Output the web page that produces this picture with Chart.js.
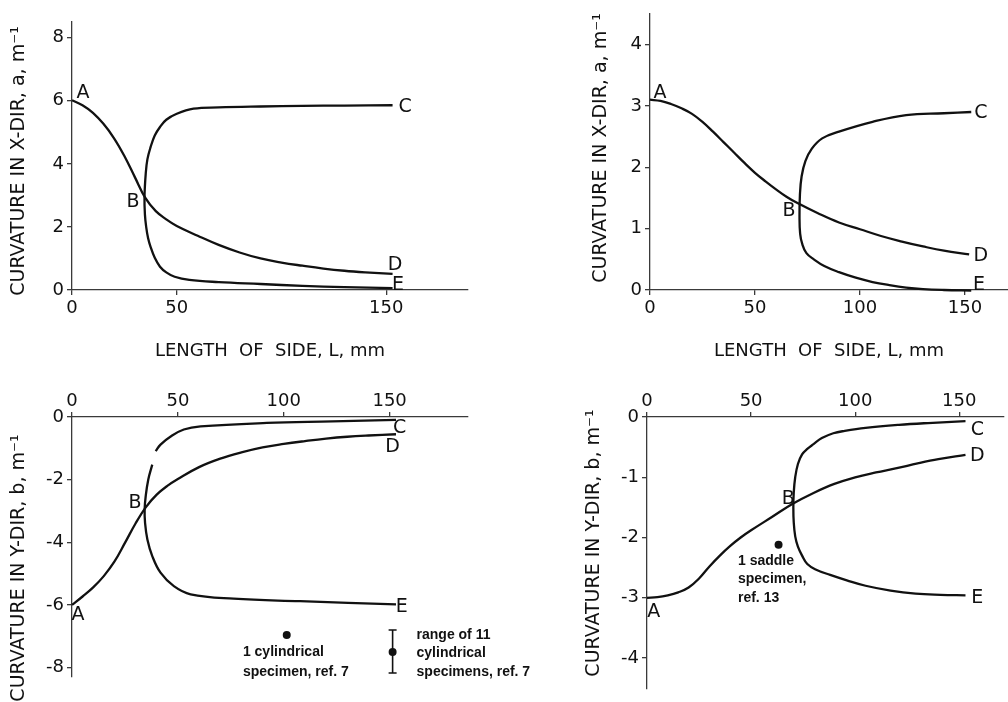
<!DOCTYPE html>
<html>
<head>
<meta charset="utf-8">
<script src="https://cdn.jsdelivr.net/npm/chart.js@4.4.1/dist/chart.umd.min.js"></script>
<style>
  body { margin: 0; background: #fff; width: 1008px; height: 702px; position: relative; overflow: hidden; }
  canvas { position: absolute; }
</style>
</head>
<body>
<canvas id="p1" width="504" height="370" style="left:0;top:0"></canvas>
<canvas id="p2" width="504" height="370" style="left:504px;top:0"></canvas>
<canvas id="p3" width="540" height="332" style="left:0;top:370px"></canvas>
<canvas id="p4" width="504" height="332" style="left:504px;top:370px"></canvas>
<script>
// 曲率随边长变化 —— 四个分图

// 分图 1：X 方向曲率 a（左上）
const p1TicksX = [0, 50, 150];
const p1TicksY = [0, 2, 4, 6, 8];
const p1AdX = [0, 5, 10, 15, 20, 25, 30, 35, 40, 45, 50, 60, 70, 80, 90, 100, 110, 120, 130, 140, 153];
const p1AdY = [6.02, 5.86, 5.62, 5.27, 4.82, 4.25, 3.58, 2.92, 2.5, 2.24, 2.03, 1.72, 1.43, 1.19, 1.0, 0.87, 0.77, 0.68, 0.61, 0.56, 0.51];
const p1CeX = [153, 130, 110, 90, 70, 58, 50, 45, 42, 39.5, 37.5, 36, 35.2, 34.6, 34.8, 35.4, 36.3, 37.5, 39.5, 42, 45, 49, 56, 70, 90, 110, 130, 153];
const p1CeY = [5.86, 5.85, 5.84, 5.82, 5.79, 5.75, 5.59, 5.4, 5.17, 4.9, 4.53, 4.15, 3.7, 2.95, 2.4, 2.0, 1.65, 1.37, 1.02, 0.74, 0.56, 0.42, 0.32, 0.25, 0.19, 0.13, 0.09, 0.06];
const p1DotX = [101.2];
const p1DotY = [-0.25];
const p1Letters = ['A', 'B', 'C', 'D', 'E'];
const p1LetterX = [5.3, 29.1, 159, 154.2, 155.6];
const p1LetterY = [6.25, 2.79, 5.81, 0.79, 0.16];

// 分图 2：X 方向曲率 a（右上）
const p2TicksX = [0, 50, 100, 150];
const p2TicksY = [0, 1, 2, 3, 4];
const p2AdX = [0, 5, 10, 15, 20, 25, 30, 35, 40, 45, 50, 55, 60, 65, 70, 80, 90, 100, 110, 120, 130, 140, 152];
const p2AdY = [3.1, 3.08, 3.03, 2.96, 2.87, 2.74, 2.58, 2.41, 2.24, 2.07, 1.91, 1.77, 1.64, 1.52, 1.42, 1.25, 1.1, 0.99, 0.88, 0.79, 0.71, 0.64, 0.58];
const p2CeX = [153, 140, 122, 106, 90, 82, 77, 74, 72.2, 71.4, 71.2, 71.5, 72.5, 74.5, 78, 83, 90, 98, 106, 114, 122, 130, 140, 153];
const p2CeY = [2.9, 2.88, 2.85, 2.74, 2.58, 2.47, 2.3, 2.1, 1.85, 1.55, 1.2, 0.92, 0.75, 0.6, 0.5, 0.39, 0.29, 0.2, 0.13, 0.08, 0.04, 0.015, 0, -0.01];
const p2Letters = ['A', 'B', 'C', 'D', 'E'];
const p2LetterX = [4.8, 66.2, 157.6, 157.6, 156.7];
const p2LetterY = [3.21, 1.29, 2.89, 0.56, 0.08];

// 分图 3：Y 方向曲率 b（左下）
const p3TicksX = [0, 50, 100, 150];
const p3TicksY = [0, -2, -4, -6, -8];
const p3AdX = [0, 5, 10, 15, 20, 25, 30, 35, 40, 45, 50, 60, 70, 80, 90, 100, 110, 120, 130, 140, 153];
const p3AdY = [-6.0, -5.73, -5.44, -5.08, -4.62, -4.02, -3.4, -2.87, -2.48, -2.2, -1.98, -1.6, -1.33, -1.13, -0.97, -0.86, -0.77, -0.69, -0.63, -0.59, -0.55];
// null 为原图曲线上的断开处
const p3CeX = [153, 123, 92, 60.7, 52.8, 46.6, 41.8, 39.5, 38.7, 37.9, 36, 34.8, 34.3, 34.5, 35.6, 37.9, 41.8, 48.1, 56, 76.3, 107.7, 153];
const p3CeY = [-0.09, -0.14, -0.19, -0.3, -0.4, -0.62, -0.88, -1.09, null, -1.52, -2.0, -2.53, -2.95, -3.38, -3.91, -4.44, -4.97, -5.4, -5.66, -5.8, -5.88, -5.98];
const p3DotX = [101.4];
const p3DotY = [-6.96];
const p3RangeX = [151.4];
const p3RangeMid = [-7.5];
const p3RangeLow = [-8.17];
const p3RangeHigh = [-6.8];
const p3Letters = ['A', 'B', 'C', 'D', 'E'];
const p3LetterX = [2.8, 29.7, 154.7, 151.4, 155.7];
const p3LetterY = [-6.32, -2.74, -0.35, -0.96, -6.06];
const p3Notes = ['1 cylindrical', 'specimen, ref. 7', 'range of 11', 'cylindrical', 'specimens, ref. 7'];
const p3NoteX = [80.7, 80.7, 162.7, 162.7, 162.7];
const p3NoteY = [-7.5, -8.14, -6.96, -7.53, -8.14];

// 分图 4：Y 方向曲率 b（右下）
const p4TicksX = [0, 50, 100, 150];
const p4TicksY = [0, -1, -2, -3, -4];
const p4AdX = [0, 5, 10, 15, 20, 25, 30, 35, 40, 45, 50, 60, 70, 80, 90, 100, 110, 120, 130, 140, 153];
const p4AdY = [-3.0, -2.99, -2.96, -2.91, -2.83, -2.68, -2.48, -2.3, -2.14, -2.0, -1.88, -1.66, -1.44, -1.26, -1.11, -1.0, -0.92, -0.85, -0.77, -0.7, -0.63];
const p4CeX = [153, 135, 121, 105, 95, 89.5, 84, 80, 77, 74.5, 72.5, 71.2, 70.5, 70.3, 70.5, 71.2, 72.5, 74.5, 77, 81, 88, 96, 105, 117, 129, 141, 153];
const p4CeY = [-0.07, -0.1, -0.13, -0.18, -0.23, -0.27, -0.35, -0.45, -0.53, -0.62, -0.78, -1.0, -1.25, -1.5, -1.75, -1.98, -2.15, -2.3, -2.44, -2.53, -2.62, -2.71, -2.8, -2.88, -2.93, -2.95, -2.96];
const p4DotX = [63.2];
const p4DotY = [-2.12];
const p4Letters = ['A', 'B', 'C', 'D', 'E'];
const p4LetterX = [3.3, 67.9, 158.7, 158.7, 158.7];
const p4LetterY = [-3.24, -1.36, -0.22, -0.65, -3.0];
const p4Notes = ['1 saddle', 'specimen,', 'ref. 13'];
const p4NoteX = [43.7, 43.7, 43.7];
const p4NoteY = [-2.39, -2.69, -3.0];

const FONT = '"DejaVu Sans", sans-serif';
const INK = '#111';
const X_TITLE = 'LENGTH  OF  SIDE, L, mm';
const Y_TITLE_A = 'CURVATURE IN X-DIR, a, m⁻¹';
const Y_TITLE_B = 'CURVATURE IN Y-DIR, b, m⁻¹';

function pts(xs, ys) {
  return xs.map((v, i) => ({ x: v, y: ys[i] }));
}

// 曲线
function curve(xs, ys) {
  return {
    data: pts(xs, ys),
    showLine: true,
    borderColor: INK,
    borderWidth: 2.3,
    pointRadius: 0,
    tension: 0.4,
    spanGaps: false,
    clip: false
  };
}

// 实验点
function dots(xs, ys) {
  return {
    data: pts(xs, ys),
    showLine: false,
    pointRadius: 4,
    pointBackgroundColor: INK,
    pointBorderWidth: 0,
    clip: false
  };
}

function axis(pos, min, max, ticks, size, title) {
  return {
    type: 'linear',
    position: pos,
    min: min,
    max: max,
    afterBuildTicks: s => { s.ticks = ticks.map(v => ({ value: v })); },
    afterFit: s => {
      if (s.isHorizontal()) s.height = size;
      else s.width = size;
    },
    border: { display: true, color: '#3a3a3a', width: 1.3 },
    grid: { drawOnChartArea: false, drawTicks: true, tickLength: 5, color: '#3a3a3a', lineWidth: 1.3 },
    ticks: { color: INK, font: { family: FONT, size: 18 }, padding: pos === 'top' ? 0 : 3 },
    title: {
      display: !!title,
      text: title || '',
      color: INK,
      font: { family: FONT, size: 18 },
      padding: 0
    }
  };
}

// 纵轴标题、字母标记、文字说明、误差棒
const markPlugin = {
  id: 'marks',
  afterDatasetsDraw(chart, args, opts) {
    const { ctx } = chart;
    const sx = chart.scales.x;
    const sy = chart.scales.y;
    ctx.save();
    ctx.fillStyle = INK;
    ctx.strokeStyle = INK;
    ctx.textBaseline = 'middle';

    if (opts.yTitle) {
      ctx.save();
      ctx.translate(opts.yTitle.x, opts.yTitle.y);
      ctx.rotate(-Math.PI / 2);
      ctx.font = '19px ' + FONT;
      ctx.textAlign = 'center';
      ctx.fillText(opts.yTitle.text, 0, 0);
      ctx.restore();
    }

    ctx.font = '19px ' + FONT;
    ctx.textAlign = 'center';
    (opts.letters || []).forEach((t, i) => {
      ctx.fillText(t, sx.getPixelForValue(opts.letterX[i]), sy.getPixelForValue(opts.letterY[i]));
    });

    ctx.font = 'bold 14px "Liberation Sans", sans-serif';
    ctx.textAlign = 'left';
    (opts.notes || []).forEach((t, i) => {
      ctx.fillText(t, sx.getPixelForValue(opts.noteX[i]), sy.getPixelForValue(opts.noteY[i]));
    });

    if (opts.rangeX) {
      ctx.lineWidth = 1.6;
      opts.rangeX.forEach((v, i) => {
        const px = sx.getPixelForValue(v);
        const top = sy.getPixelForValue(opts.rangeHigh[i]);
        const bot = sy.getPixelForValue(opts.rangeLow[i]);
        ctx.beginPath();
        ctx.moveTo(px, top);
        ctx.lineTo(px, bot);
        ctx.moveTo(px - 4, top);
        ctx.lineTo(px + 4, top);
        ctx.moveTo(px - 4, bot);
        ctx.lineTo(px + 4, bot);
        ctx.stroke();
      });
    }
    ctx.restore();
  }
};

function makePanel(id, datasets, scales, padding, marks) {
  return new Chart(document.getElementById(id), {
    type: 'scatter',
    data: { datasets: datasets },
    options: {
      responsive: false,
      animation: false,
      events: [],
      layout: { padding: padding },
      plugins: {
        legend: { display: false },
        tooltip: { enabled: false },
        marks: marks
      },
      scales: scales
    },
    plugins: [markPlugin]
  });
}

makePanel('p1',
  [curve(p1AdX, p1AdY), curve(p1CeX, p1CeY), dots(p1DotX, p1DotY)],
  {
    x: axis('bottom', 0, 189, p1TicksX, 72, X_TITLE),
    y: axis('left', 0, 8.5, p1TicksY, 62, '')
  },
  { left: 10, right: 36, top: 22, bottom: 8 },
  {
    yTitle: { text: Y_TITLE_A, x: 19, y: 161 },
    letters: p1Letters, letterX: p1LetterX, letterY: p1LetterY
  }
);

makePanel('p2',
  [curve(p2AdX, p2AdY), curve(p2CeX, p2CeY)],
  {
    x: axis('bottom', 0, 170.5, p2TicksX, 72, X_TITLE),
    y: axis('left', 0, 4.5, p2TicksY, 59, '')
  },
  { left: 87, right: 0, top: 6, bottom: 8 },
  {
    yTitle: { text: Y_TITLE_A, x: 97, y: 148 },
    letters: p2Letters, letterX: p2LetterX, letterY: p2LetterY
  }
);

makePanel('p3',
  [curve(p3AdX, p3AdY), curve(p3CeX, p3CeY), dots(p3DotX, p3DotY), dots(p3RangeX, p3RangeMid)],
  {
    x: axis('top', 0, 187, p3TicksX, 47, ''),
    y: axis('left', -8.3, 0, p3TicksY, 62, '')
  },
  { left: 10, right: 72, top: 0, bottom: 25 },
  {
    yTitle: { text: Y_TITLE_B, x: 19, y: 198 },
    letters: p3Letters, letterX: p3LetterX, letterY: p3LetterY,
    notes: p3Notes, noteX: p3NoteX, noteY: p3NoteY,
    rangeX: p3RangeX, rangeLow: p3RangeLow, rangeHigh: p3RangeHigh
  }
);

makePanel('p4',
  [curve(p4AdX, p4AdY), curve(p4CeX, p4CeY), dots(p4DotX, p4DotY)],
  {
    x: axis('top', 0, 171.5, p4TicksX, 47, ''),
    y: axis('left', -4.5, 0, p4TicksY, 63, '')
  },
  { left: 80, right: 0, top: 0, bottom: 0 },
  {
    yTitle: { text: Y_TITLE_B, x: 90, y: 173 },
    letters: p4Letters, letterX: p4LetterX, letterY: p4LetterY,
    notes: p4Notes, noteX: p4NoteX, noteY: p4NoteY
  }
);
</script>
</body>
</html>
